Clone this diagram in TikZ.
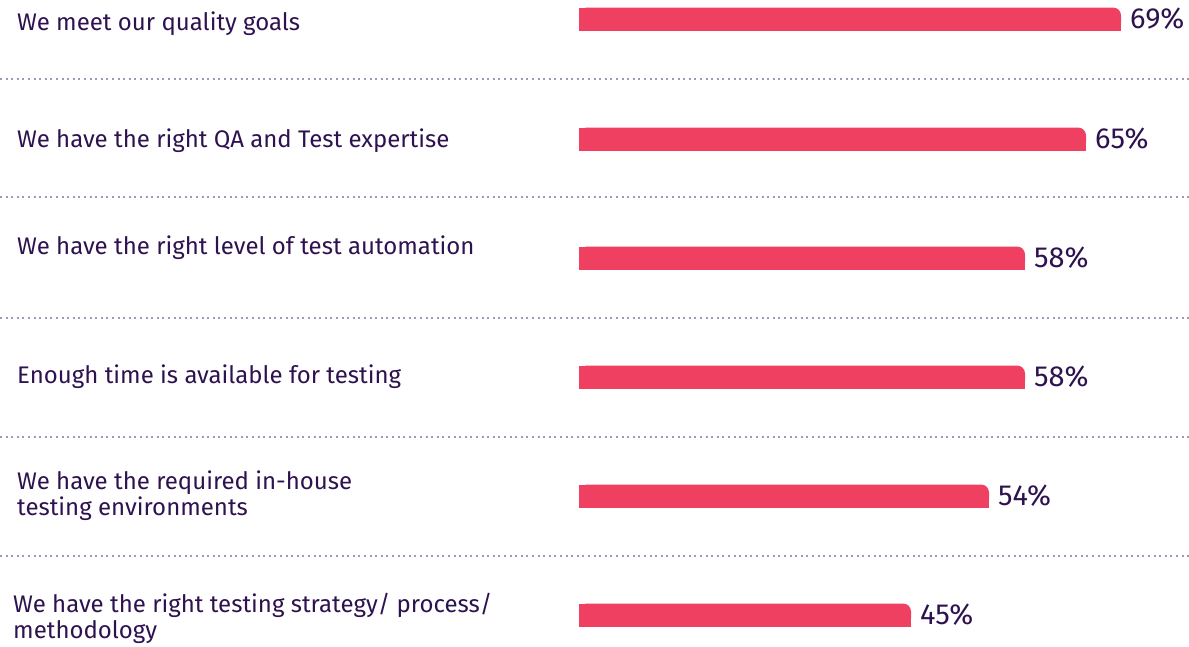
\documentclass[tikz,border=0pt]{standalone}
\usepackage{fontspec}
\setmainfont{Fira Sans}
\usepackage{tikz}
\usepackage{xcolor}
\definecolor{barcolor}{RGB}{239,64,97}
\definecolor{textcolor}{RGB}{46,18,80}
\definecolor{dotcolor}{RGB}{160,150,192}

\tikzset{
  label/.style={anchor=west, text=textcolor, font=\fontsize{24}{26}\selectfont,
    align=left, inner sep=0pt},
  pct/.style={anchor=west, text=textcolor, font=\fontsize{29}{30}\selectfont, inner sep=0pt},
  sep/.style={dotcolor, line width=2pt, dash pattern=on 2pt off 3.6pt},
}

\begin{document}
\begin{tikzpicture}[x=1pt,y=-1pt]
\useasboundingbox (0,0) rectangle (1189,646);
\def\barh{11.5}

% bars: only the top right corner is rounded
\def\drawbar#1#2{%
  \fill[barcolor, rounded corners=8pt] (579,#1-\barh) rectangle (#2,#1+\barh);
  \fill[barcolor] (579,#1-\barh) rectangle (#2-10,#1+\barh);
  \fill[barcolor] (579,#1) rectangle (#2,#1+\barh);
}
\drawbar{19}{1121}
\drawbar{139}{1086}
\drawbar{258}{1025}
\drawbar{377}{1025}
\drawbar{496}{989}
\drawbar{615}{911}

\node[label] (q1) at (17,24) {We meet our quality goals};
\node[label] (q2) at (17,141) {We have the right QA and Test expertise};
\node[label] (q3) at (17,248) {We have the right level of test automation};
\node[label] (q4) at (17,377) {Enough time is available for testing};
\node[label] (q5) at (17,496) {We have the required in-house\\testing environments};
\node[label] (q6) at (13,618) {We have the right testing strategy/ process/\\methodology};

\node[pct] (p1) at (1130,19) {69\%};
\node[pct] (p2) at (1095,139) {65\%};
\node[pct] (p3) at (1034,258) {58\%};
\node[pct] (p4) at (1034,377) {58\%};
\node[pct] (p5) at (998,496) {54\%};
\node[pct] (p6) at (920,615) {45\%};

\draw[sep] (0,79) -- (1189,79);
\draw[sep] (0,197) -- (1189,197);
\draw[sep] (0,318) -- (1189,318);
\draw[sep] (0,437) -- (1189,437);
\draw[sep] (0,556) -- (1189,556);
\end{tikzpicture}
\end{document}
